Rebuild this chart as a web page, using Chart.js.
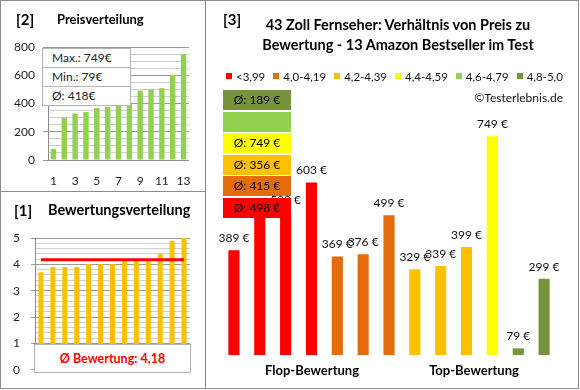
<!DOCTYPE html>
<html lang="de">
<head>
<meta charset="utf-8">
<title>43 Zoll Fernseher: Preis und Bewertung</title>
<script src="https://cdn.jsdelivr.net/npm/chart.js@4.4.1/dist/chart.umd.min.js"></script>
<style>
  html, body { margin: 0; padding: 0; background: #fff; }
  body { font-family: Lato, 'DejaVu Sans', sans-serif; color: #000; }
  #board { position: relative; width: 580px; height: 390px; overflow: hidden; }
  .frame { position: absolute; box-sizing: border-box; border: 1px solid #8c8c8c; }
  canvas { position: absolute; }
  .heading { position: absolute; font-weight: bold; white-space: nowrap; line-height: 20px; }
  .tag { font-size: 15px; }
  .title { font-size: 13px; }
  #main-title { position: absolute; left: 228px; top: 15px; width: 340px; text-align: center;
    font-weight: bold; font-size: 14.5px; line-height: 20px; white-space: nowrap; }
  #legend { position: absolute; left: 226px; top: 69px; font-size: 11.5px; line-height: 16px; white-space: nowrap; color: #111; }
  .legend-item { display: inline-block; margin-right: 8px; }
  .legend-item i { display: inline-block; width: 6px; height: 6px; margin-right: 4px; vertical-align: 2px; }
  #copyright { position: absolute; right: 17px; top: 90px; font-size: 12px; line-height: 16px; color: #111; }
  .avg-box { position: absolute; left: 223px; width: 68px; height: 20px; line-height: 20px;
    text-align: center; font-size: 12px; color: #000; }
  #price-box { position: absolute; left: 42px; top: 48px; width: 89px; box-sizing: border-box;
    background: #fff; border: 1px solid #b3b3b3; font-size: 12px; color: #222; }
  #price-box div { height: 18px; line-height: 18px; padding-left: 9px; border-top: 1px solid #b3b3b3; }
  #price-box div:first-child { border-top: none; }
  #rating-box { position: absolute; left: 34px; top: 344px; width: 157px; height: 29px; box-sizing: border-box;
    background: #fff; border: 1px solid #b3b3b3; text-align: center; line-height: 27px;
    font-size: 12.5px; font-weight: bold; color: #ff0000; }
  .axis-name { position: absolute; top: 361px; font-weight: bold; font-size: 13px; line-height: 18px; white-space: nowrap; transform: translateX(-50%); }
</style>
</head>
<body>
<div id="board">
  <div class="frame" style="left:0;top:0;width:206px;height:192px"></div>
  <div class="frame" style="left:0;top:191px;width:206px;height:198px"></div>
  <div class="frame" style="left:205px;top:0;width:374px;height:389px"></div>

  <canvas id="price-chart" width="205" height="191" style="left:0;top:0"></canvas>
  <canvas id="rating-chart" width="205" height="197" style="left:0;top:191px"></canvas>
  <canvas id="main-chart" width="373" height="388" style="left:205px;top:0"></canvas>

  <div class="heading tag" style="left:16px;top:9px">[2]</div>
  <div class="heading title" style="left:57px;top:9px">Preisverteilung</div>
  <div class="heading tag" style="left:14px;top:200px">[1]</div>
  <div class="heading title" style="left:48px;top:200px;font-size:14.5px">Bewertungsverteilung</div>
  <div class="heading tag" style="left:223px;top:9px">[3]</div>
  <div id="main-title">43 Zoll Fernseher: Verhältnis von Preis zu<br>Bewertung - 13 Amazon Bestseller im Test</div>
  <div id="legend"></div>
  <div id="copyright">©Testerlebnis.de</div>
  <div id="avg-boxes"></div>
  <div id="price-box"></div>
  <div id="rating-box"></div>
  <div class="axis-name" style="left:312px">Flop-Bewertung</div>
  <div class="axis-name" style="left:474px">Top-Bewertung</div>
</div>

<script>
'use strict';

// ***** DATA *****

let productLabels = ['1', '2', '3', '4', '5', '6', '7', '8', '9', '10', '11', '12', '13'];
let prices = [389, 491, 509, 603, 369, 376, 499, 329, 339, 399, 749, 79, 299];
let ratings = [3.7, 3.9, 3.9, 3.9, 4.0, 4.0, 4.0, 4.2, 4.2, 4.2, 4.4, 4.9, 5.0];

let classLabels = ['<3,99', '4,0-4,19', '4,2-4,39', '4,4-4,59', '4,6-4,79', '4,8-5,0'];
let classLimits = [0, 4.0, 4.2, 4.4, 4.6, 4.8];
let classColors = ['#ff0000', '#e46c0a', '#ffc000', '#ffff00', '#92d050', '#77933c'];

let priceTicks = [0, 200, 400, 600, 800];
let ratingTicks = [0, 1, 2, 3, 4, 5];

// ***** HELPERS *****

Chart.defaults.font.family = 'Lato';
Chart.defaults.color = '#222';

function ratingClass(rating) {
    let idx = 0;
    for (let i = 0; i < classLimits.length; i++) {
        if (rating >= classLimits[i] - 1e-9) {
            idx = i;
        }
    }
    return idx;
}

function euro(value) {
    return Math.round(value) + ' €';
}

function isMajor(ctx, list) {
    return ctx.tick && list.some(v => Math.abs(v - ctx.tick.value) < 1e-6);
}

let sortedPrices = [...prices].sort((a, b) => a - b);
let sortedRatings = [...ratings].sort((a, b) => a - b);
let avgPrice = prices.reduce((a, b) => a + b, 0) / prices.length;
let avgRating = ratings.reduce((a, b) => a + b, 0) / ratings.length;

// ***** OVERLAYS *****

let legend = document.getElementById('legend');
classLabels.forEach((label, i) => {
    let item = document.createElement('span');
    item.className = 'legend-item';
    item.innerHTML = '<i style="background:' + classColors[i] + '"></i>' + label;
    legend.appendChild(item);
});

let avgBoxes = document.getElementById('avg-boxes');
for (let k = 0; k < classLabels.length; k++) {
    let cls = classLabels.length - 1 - k;
    let group = prices.filter((p, i) => ratingClass(ratings[i]) === cls);
    let box = document.createElement('div');
    box.className = 'avg-box';
    box.style.top = Math.round(90 + k * 21.6) + 'px';
    box.style.background = classColors[cls];
    if (group.length) {
        box.textContent = 'Ø: ' + euro(group.reduce((a, b) => a + b, 0) / group.length);
    }
    avgBoxes.appendChild(box);
}

document.getElementById('price-box').innerHTML =
    '<div>Max.: ' + Math.max(...prices) + '€</div>' +
    '<div>Min.: ' + Math.min(...prices) + '€</div>' +
    '<div>Ø: ' + Math.round(avgPrice) + '€</div>';

document.getElementById('rating-box').textContent =
    'Ø Bewertung: ' + avgRating.toFixed(2).replace('.', ',');

// ***** PLUGINS *****

let priceLabels = {
    id: 'priceLabels',
    afterDatasetsDraw(chart) {
        let ctx = chart.ctx;
        let meta = chart.getDatasetMeta(0);
        ctx.save();
        ctx.font = '12px Lato';
        ctx.fillStyle = '#111';
        ctx.textAlign = 'center';
        ctx.textBaseline = 'bottom';
        meta.data.forEach((bar, i) => {
            ctx.fillText(euro(chart.data.datasets[0].data[i]), bar.x, bar.y - 6);
        });
        ctx.restore();
    }
};

// ***** CHARTS *****

new Chart(document.getElementById('price-chart'), {
    type: 'bar',
    data: {
        labels: productLabels,
        datasets: [{
            data: sortedPrices,
            backgroundColor: '#92d050',
            categoryPercentage: 1,
            barPercentage: 0.5
        }]
    },
    options: {
        responsive: false,
        animation: false,
        layout: { padding: { left: 0, right: 13, top: 47, bottom: 0 } },
        plugins: { legend: { display: false }, tooltip: { enabled: false } },
        scales: {
            x: {
                grid: { display: false, drawTicks: false },
                border: { display: true, color: '#8c8c8c' },
                ticks: {
                    autoSkip: false,
                    maxRotation: 0,
                    padding: 14,
                    font: { size: 12 },
                    callback: (v, i) => i % 2 === 0 ? productLabels[i] : ''
                },
                afterFit: s => { s.height = 31; }
            },
            y: {
                min: 0,
                max: 800,
                grid: {
                    color: ctx => isMajor(ctx, priceTicks) ? '#9a9a9a' : '#cfcfcf',
                    tickLength: 5,
                    tickColor: ctx => isMajor(ctx, priceTicks) ? '#9a9a9a' : 'rgba(0,0,0,0)'
                },
                border: { display: true, color: '#8c8c8c' },
                ticks: {
                    stepSize: 50,
                    autoSkip: false,
                    padding: 8,
                    font: { size: 12 },
                    callback: v => priceTicks.includes(v) ? v : ''
                },
                afterFit: s => { s.width = 48; }
            }
        }
    }
});

new Chart(document.getElementById('rating-chart'), {
    type: 'bar',
    data: {
        labels: productLabels,
        datasets: [{
            type: 'line',
            data: sortedRatings.map(() => avgRating),
            borderColor: '#ff0000',
            borderWidth: 3,
            pointRadius: 0,
            order: 0
        }, {
            type: 'bar',
            data: sortedRatings,
            backgroundColor: '#ffc000',
            categoryPercentage: 1,
            barPercentage: 0.42,
            order: 1
        }]
    },
    options: {
        responsive: false,
        animation: false,
        layout: { padding: { left: 0, right: 15, top: 47, bottom: 16 } },
        plugins: { legend: { display: false }, tooltip: { enabled: false } },
        scales: {
            x: { display: false },
            y: {
                min: 0,
                max: 5,
                grid: {
                    color: ctx => isMajor(ctx, ratingTicks) ? '#9a9a9a' : '#cfcfcf',
                    tickLength: 4,
                    tickColor: ctx => isMajor(ctx, ratingTicks) ? '#9a9a9a' : 'rgba(0,0,0,0)'
                },
                border: { display: true, color: '#8c8c8c' },
                ticks: {
                    stepSize: 0.2,
                    autoSkip: false,
                    padding: 11,
                    font: { size: 12 },
                    callback: v => {
                        let r = Math.round(v);
                        return Math.abs(v - r) < 1e-6 && ratingTicks.includes(r) ? r : '';
                    }
                },
                afterFit: s => { s.width = 35; }
            }
        }
    }
});

new Chart(document.getElementById('main-chart'), {
    type: 'bar',
    data: {
        labels: productLabels,
        datasets: [{
            data: prices,
            backgroundColor: ratings.map(r => classColors[ratingClass(r)]),
            categoryPercentage: 1,
            barPercentage: 0.43
        }]
    },
    options: {
        responsive: false,
        animation: false,
        layout: { padding: { left: 16, right: 21, top: 120, bottom: 33 } },
        plugins: { legend: { display: false }, tooltip: { enabled: false } },
        scales: {
            x: { display: false },
            y: { display: false, min: 58, max: 800 }
        }
    },
    plugins: [priceLabels]
});
</script>
</body>
</html>
